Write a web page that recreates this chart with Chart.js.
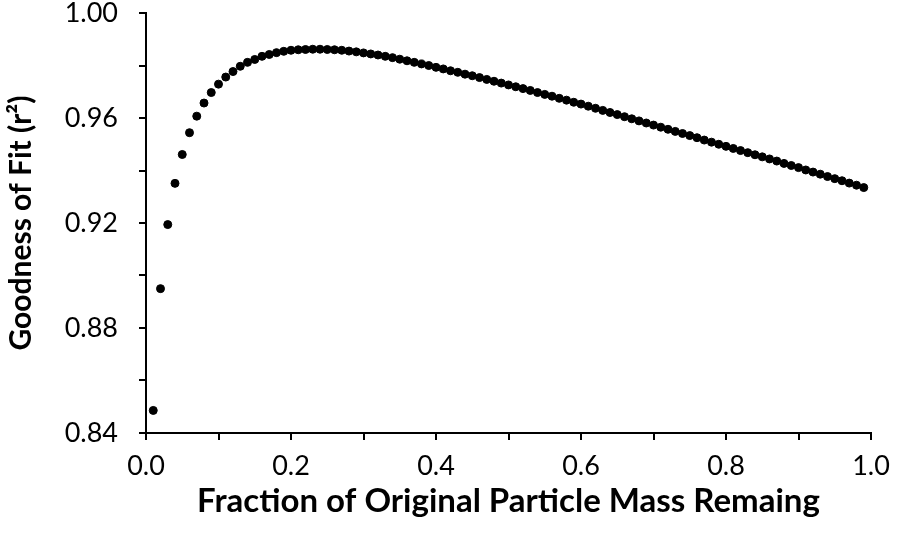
<!DOCTYPE html>
<html>
<head>
<meta charset="utf-8">
<script src="https://cdn.jsdelivr.net/npm/chart.js@4.4.1/dist/chart.umd.min.js"></script>
<style>
  html, body { margin: 0; padding: 0; background: #fff; }
  #wrap { width: 897px; height: 537px; }
</style>
</head>
<body>
<div id="wrap"><canvas id="grafico" width="897" height="537"></canvas></div>
<script>
// fraction of original particle mass remaining
const fracoes = [
  0.01, 0.02, 0.03, 0.04, 0.05, 0.06, 0.07, 0.08, 0.09, 0.10,
  0.11, 0.12, 0.13, 0.14, 0.15, 0.16, 0.17, 0.18, 0.19, 0.20,
  0.21, 0.22, 0.23, 0.24, 0.25, 0.26, 0.27, 0.28, 0.29, 0.30,
  0.31, 0.32, 0.33, 0.34, 0.35, 0.36, 0.37, 0.38, 0.39, 0.40,
  0.41, 0.42, 0.43, 0.44, 0.45, 0.46, 0.47, 0.48, 0.49, 0.50,
  0.51, 0.52, 0.53, 0.54, 0.55, 0.56, 0.57, 0.58, 0.59, 0.60,
  0.61, 0.62, 0.63, 0.64, 0.65, 0.66, 0.67, 0.68, 0.69, 0.70,
  0.71, 0.72, 0.73, 0.74, 0.75, 0.76, 0.77, 0.78, 0.79, 0.80,
  0.81, 0.82, 0.83, 0.84, 0.85, 0.86, 0.87, 0.88, 0.89, 0.90,
  0.91, 0.92, 0.93, 0.94, 0.95, 0.96, 0.97, 0.98, 0.99
];

// goodness of fit (r2)
const r2 = [
  0.8486, 0.8950, 0.9194, 0.9351, 0.9461, 0.9544, 0.9607, 0.9657, 0.9697, 0.9729,
  0.9756, 0.9777, 0.9797, 0.9812, 0.9823, 0.9835, 0.9842, 0.9849, 0.9854, 0.9858,
  0.9860, 0.9861, 0.9862, 0.9862, 0.9861, 0.9860, 0.9858, 0.9855, 0.9852, 0.9848,
  0.9844, 0.9840, 0.9835, 0.9830, 0.9824, 0.9818, 0.9812, 0.9806, 0.9800, 0.9793,
  0.9787, 0.9780, 0.9774, 0.9767, 0.9761, 0.9754, 0.9747, 0.9740, 0.9733, 0.9726,
  0.9719, 0.9712, 0.9705, 0.9697, 0.9690, 0.9683, 0.9675, 0.9668, 0.9660, 0.9653,
  0.9645, 0.9637, 0.9629, 0.9621, 0.9613, 0.9605, 0.9597, 0.9589, 0.9581, 0.9573,
  0.9565, 0.9557, 0.9549, 0.9541, 0.9533, 0.9525, 0.9516, 0.9508, 0.9500, 0.9492,
  0.9484, 0.9476, 0.9468, 0.9460, 0.9452, 0.9444, 0.9436, 0.9427, 0.9419, 0.9411,
  0.9402, 0.9394, 0.9386, 0.9377, 0.9369, 0.9361, 0.9352, 0.9344, 0.9335
];

const tituloX = 'Fraction of Original Particle Mass Remaing';
const tituloY = 'Goodness of Fit (r²)';

const fonte = 'Lato, "Open Sans", sans-serif';

const pontos = fracoes.map((f, i) => ({ x: f, y: r2[i] }));

new Chart(document.getElementById('grafico'), {
  type: 'scatter',
  data: {
    datasets: [{
      data: pontos,
      backgroundColor: '#000',
      borderColor: '#000',
      pointRadius: 4,
      pointHoverRadius: 4
    }]
  },
  options: {
    responsive: false,
    animation: false,
    layout: { padding: { top: 13, right: 26, left: 0, bottom: 0 } },
    plugins: { legend: { display: false }, tooltip: { enabled: false } },
    scales: {
      x: {
        type: 'linear', min: 0, max: 1,
        ticks: {
          stepSize: 0.1, autoSkip: false, maxRotation: 0, color: '#000', padding: 10,
          font: { family: fonte, size: 27 },
          callback: v => Math.round(v * 10) % 2 === 0 ? v.toFixed(1) : ''
        },
        grid: { drawOnChartArea: false, drawTicks: true, tickLength: 7, color: '#000', lineWidth: 2 },
        border: { display: true, color: '#000', width: 2 },
        title: {
          display: true, text: tituloX, color: '#000',
          font: { family: fonte, size: 33, weight: 'bold' },
          padding: { top: 0, bottom: 16 }
        },
        afterFit: s => { s.height = 104; s.paddingLeft = 0; s.paddingRight = 0; }
      },
      y: {
        type: 'linear', min: 0.84, max: 1.0,
        ticks: {
          stepSize: 0.02, autoSkip: false, color: '#000', padding: 21,
          font: { family: fonte, size: 27 },
          callback: v => Math.round(v * 100) % 4 === 0 ? v.toFixed(2) : ''
        },
        grid: { drawOnChartArea: false, drawTicks: true, tickLength: 7, color: '#000', lineWidth: 2 },
        border: { display: true, color: '#000', width: 2 },
        title: {
          display: true, text: tituloY, color: '#000',
          font: { family: fonte, size: 30, weight: 'bold' },
          padding: { top: 3, bottom: 0 }
        },
        afterFit: s => { s.width = 146; s.paddingTop = 0; s.paddingBottom = 0; }
      }
    }
  }
});
</script>
</body>
</html>
